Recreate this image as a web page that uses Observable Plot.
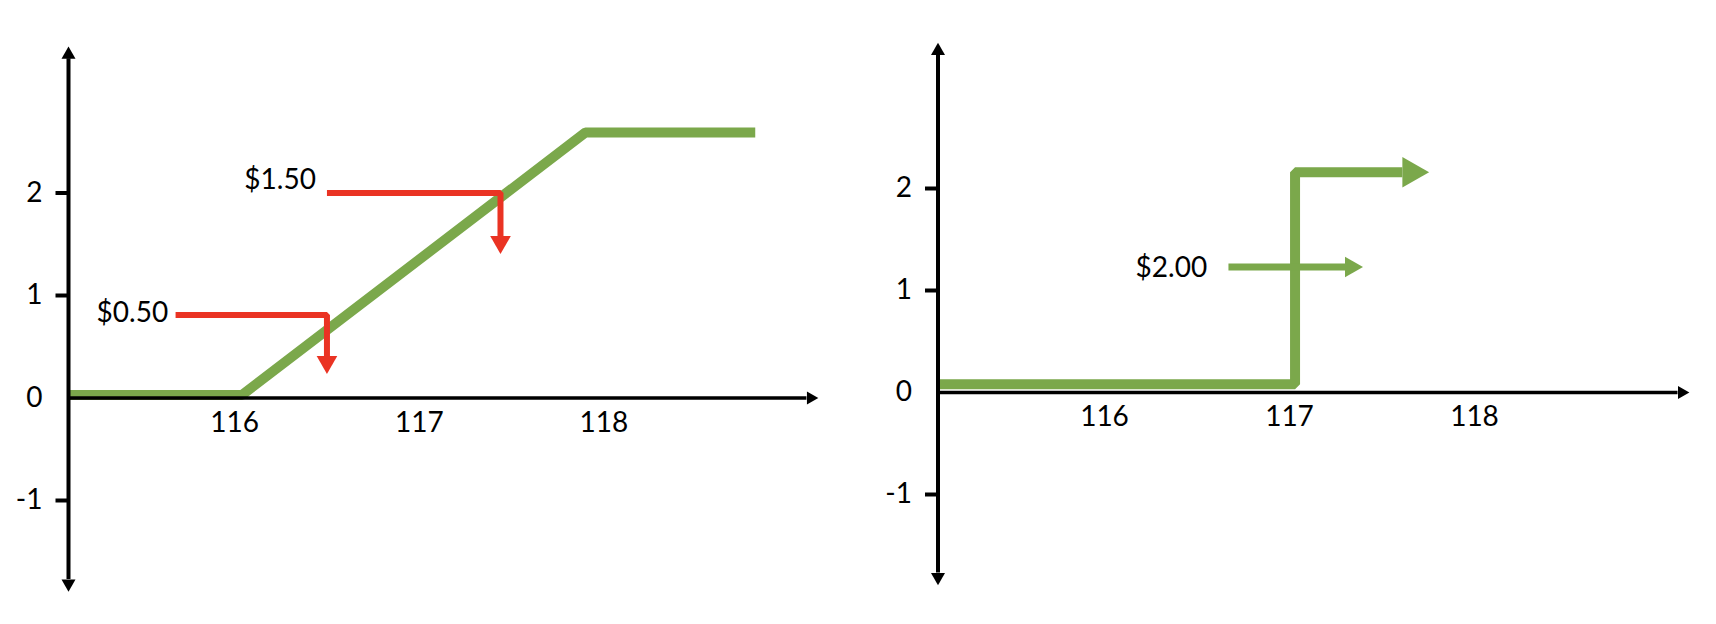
<!DOCTYPE html>
<html><head><meta charset="utf-8">
<script src="https://cdn.jsdelivr.net/npm/d3@7"></script>
<script src="https://cdn.jsdelivr.net/npm/@observablehq/plot@0.6"></script>
<style>
body{margin:0;background:#fff;}
#wrap{display:flex;width:1716px;height:624px;}
#wrap svg{display:block;max-width:none;}
</style></head><body><div id="wrap"></div>
<script>
// ---- shared axis data ----
const xTicks = [116, 117, 118];
const yTicks = [-1, 0, 1, 2];
const xAxisRange = [115.1, 119.1];
const yAxisRange = [-1.77, 3.31];

// ---- left panel: payoff (call spread) ----
const leftPayoffX = [115.1, 116.04, 117.9, 118.82];
const leftPayoffY = [0.03, 0.03, 2.59, 2.59];
// red arrows
const leftArrowLabels = ["$0.50", "$1.50"];
const leftArrowStartX = [115.68, 116.50];
const leftArrowLevelY = [0.81, 2.0];
const leftArrowDropX = [116.50, 117.44];
const leftArrowEndY = [0.41, 1.58];
const leftLabelX = [115.64, 116.44];
const leftLabelY = [0.83, 2.13];

// ---- right panel: digital payoff ----
const rightPayoffX = [115.1, 117.03, 117.03, 117.61];
const rightPayoffY = [0.08, 0.08, 2.16, 2.16];
const rightArrowLabels = ["$2.00"];
const rightArrowStartX = [116.67];
const rightArrowEndX = [117.30];
const rightArrowY = [1.23];
const rightLabelX = [116.555];
const rightLabelY = [1.22];

const GREEN = "#7BA84B", RED = "#EA3323";

// filled arrowhead symbol: base centred at origin, tip pointing up
const arrowHead = {draw(ctx, size) {
  const r = Math.sqrt(size / Math.PI);
  ctx.moveTo(-r, 0); ctx.lineTo(r, 0); ctx.lineTo(0, -1.75 * r); ctx.closePath();
}};
// y-axis tick symbol: a short bar extending left of the axis
const tickBar = {draw(ctx, size) {
  const r = Math.sqrt(size / Math.PI);
  ctx.rect(-r, -2, r, 4);
}};

function axesMarks() {
  const tickData = yTicks.filter(d => d !== 0).map(y => ({x: xAxisRange[0], y}));
  return [
    Plot.ruleY([{y: 0, x1: xAxisRange[0], x2: xAxisRange[1]}], {y: "y", x1: "x1", x2: "x2", stroke: "black", strokeWidth: 3.5}),
    Plot.ruleX([{x: xAxisRange[0], y1: yAxisRange[0], y2: yAxisRange[1]}], {x: "x", y1: "y1", y2: "y2", stroke: "black", strokeWidth: 4}),
    Plot.dot([{x: xAxisRange[0], y: yAxisRange[1], a: 0}, {x: xAxisRange[0], y: yAxisRange[0], a: 180}],
      {x: "x", y: "y", rotate: "a", symbol: arrowHead, r: 7, fill: "black", stroke: "none"}),
    Plot.dot([{x: xAxisRange[1], y: 0}], {x: "x", y: "y", rotate: 90, symbol: arrowHead, r: 6.5, fill: "black", stroke: "none"}),
    Plot.dot(tickData, {x: "x", y: "y", symbol: tickBar, r: 13, fill: "black", stroke: "none"}),
    Plot.axisY(yTicks, {anchor: "left", tickSize: 0, tickPadding: 26, tickFormat: d => String(d), label: null}),
    Plot.text(xTicks, {x: d => d, y: d => 0, dy: 25, text: d => String(d), fill: "black"})
  ];
}

const baseStyle = {fontFamily: "Lato", fontSize: "28px", background: "white", color: "black", overflow: "visible"};

// left
const leftPayoff = leftPayoffX.map((x, i) => ({x, y: leftPayoffY[i]}));
const leftArrowPath = leftArrowLabels.flatMap((k, i) => [
  {k, x: leftArrowStartX[i], y: leftArrowLevelY[i]},
  {k, x: leftArrowDropX[i], y: leftArrowLevelY[i]},
  {k, x: leftArrowDropX[i], y: leftArrowEndY[i]}
]);
const leftHeads = leftArrowLabels.map((k, i) => ({x: leftArrowDropX[i], y: leftArrowEndY[i]}));
const leftLabels = leftArrowLabels.map((k, i) => ({k, x: leftLabelX[i], y: leftLabelY[i]}));

const left = Plot.plot({
  width: 858, height: 624,
  marginLeft: 68, marginRight: 33.1, marginTop: 38.75, marginBottom: 21.5,
  x: {domain: [115.1, 119.2], axis: null, label: null},
  y: {domain: [-2, 3.5], label: null},
  style: baseStyle,
  marks: [
    Plot.line(leftPayoff, {x: "x", y: "y", stroke: GREEN, strokeWidth: 10, strokeLinejoin: "miter", strokeLinecap: "butt"}),
    Plot.line(leftArrowPath, {x: "x", y: "y", z: "k", stroke: RED, strokeWidth: 6, strokeLinejoin: "miter", strokeLinecap: "butt"}),
    Plot.dot(leftHeads, {x: "x", y: "y", rotate: 180, symbol: arrowHead, r: 10.3, fill: RED, stroke: "none"}),
    Plot.text(leftLabels, {x: "x", y: "y", text: "k", textAnchor: "end", fill: "black"}),
    ...axesMarks()
  ]
});

// right
const rightPayoff = rightPayoffX.map((x, i) => ({x, y: rightPayoffY[i]}));
const rightTopHead = [{x: rightPayoffX[rightPayoffX.length - 1], y: rightPayoffY[rightPayoffY.length - 1]}];
const rightArrowPath = rightArrowLabels.flatMap((k, i) => [
  {k, x: rightArrowStartX[i], y: rightArrowY[i]},
  {k, x: rightArrowEndX[i], y: rightArrowY[i]}
]);
const rightHeads = rightArrowLabels.map((k, i) => ({x: rightArrowEndX[i], y: rightArrowY[i]}));
const rightLabels = rightArrowLabels.map((k, i) => ({k, x: rightLabelX[i], y: rightLabelY[i]}));

const right = Plot.plot({
  width: 858, height: 624,
  marginLeft: 79.5, marginRight: 20, marginTop: 35, marginBottom: 28,
  x: {domain: [115.1, 119.2], axis: null, label: null},
  y: {domain: [-2, 3.5], label: null},
  style: baseStyle,
  marks: [
    Plot.line(rightPayoff, {x: "x", y: "y", stroke: GREEN, strokeWidth: 10, strokeLinejoin: "miter", strokeLinecap: "butt"}),
    Plot.dot(rightTopHead, {x: "x", y: "y", rotate: 90, symbol: arrowHead, r: 15.3, fill: GREEN, stroke: "none"}),
    Plot.line(rightArrowPath, {x: "x", y: "y", z: "k", stroke: GREEN, strokeWidth: 7, strokeLinecap: "butt"}),
    Plot.dot(rightHeads, {x: "x", y: "y", rotate: 90, symbol: arrowHead, r: 10.3, fill: GREEN, stroke: "none"}),
    Plot.text(rightLabels, {x: "x", y: "y", text: "k", textAnchor: "end", fill: "black"}),
    ...axesMarks()
  ]
});

document.getElementById("wrap").append(left, right);
</script>
</body></html>
